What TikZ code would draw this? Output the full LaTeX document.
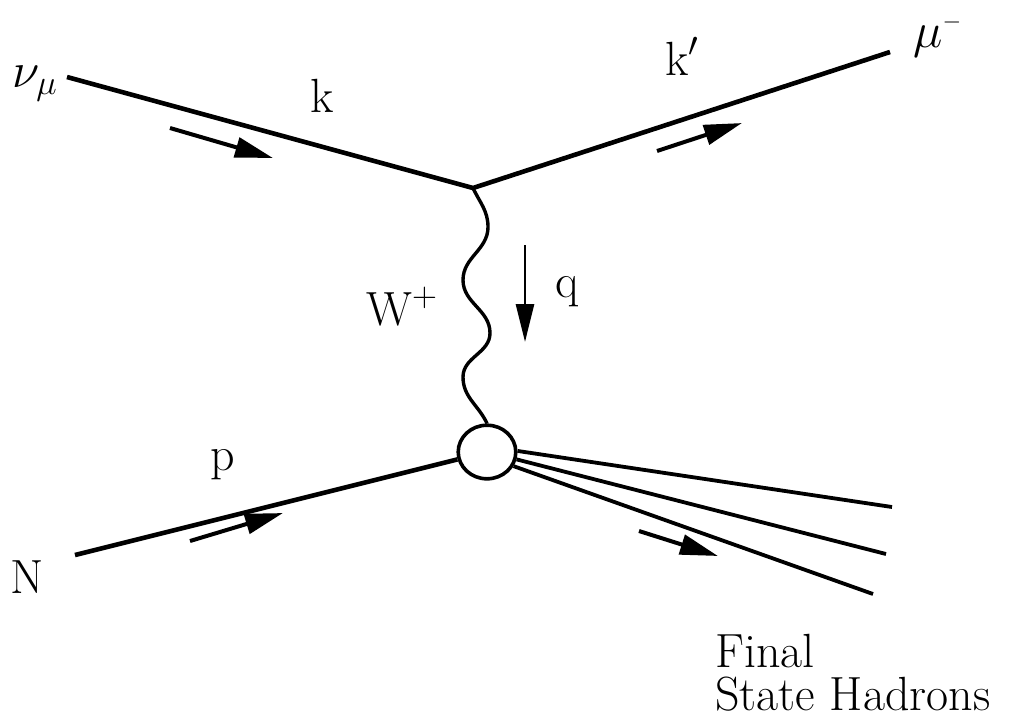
\documentclass[tikz,border=0pt]{standalone}
\usepackage{tikz}
\usetikzlibrary{arrows.meta,shapes.geometric}

\begin{document}
\begin{tikzpicture}[
  x=0.5pt, y=-0.5pt,
  fermion/.style={line width=2.3pt},
  hadron/.style={line width=1.9pt},
  boson/.style={line width=1.7pt},
  mom/.style={-{Triangle[length=19pt,width=10pt]}, line width=2pt},
  qmom/.style={-{Triangle[length=19pt,width=9pt]}, line width=1.4pt},
  lbl/.style={anchor=base west, inner sep=0pt, font=\fontsize{24}{28}\selectfont},
  blob/.style={
    ellipse,
    draw,
    line width=1.8pt,
    minimum width=28.8pt,
    minimum height=26.8pt,
    inner sep=0pt
  }
]
\useasboundingbox (0,0) rectangle (1026,725);

% vertices and line ends
\coordinate (nu) at (67,77);
\coordinate (v) at (473,188);
\coordinate (mu) at (890,52);
\coordinate (N) at (75,555);
\node[blob] (hx) at (487,452) {};
\coordinate (h1) at (892,507);
\coordinate (h2) at (886,554);
\coordinate (h3) at (873,594);

% lines
\draw[fermion] (nu) -- (v) -- (mu);
\draw[fermion] (N) -- (hx);
\draw[hadron] (hx.2) -- (h1);
\draw[hadron] (hx.-14) -- (h2);
\draw[hadron] (hx.-28) -- (h3);
\draw[boson] (v) to[out=-65,in=90] (488,227)
  to[out=-90,in=90] (463,280)
  to[out=-90,in=90] (490,333)
  to[out=-90,in=90] (463,377)
  to[out=-90,in=115] (hx.north);

% momentum arrows
\coordinate (ka) at (170,128);
\coordinate (kb) at (273,158);
\coordinate (kpa) at (657,151);
\coordinate (kpb) at (742,123);
\coordinate (qa) at (525,245);
\coordinate (qb) at (525,342);
\coordinate (pa) at (190,541);
\coordinate (pb) at (283,513);
\coordinate (ha) at (639,531);
\coordinate (hb) at (718,556);
\draw[mom] (ka) -- (kb);
\draw[mom] (kpa) -- (kpb);
\draw[qmom] (qa) -- (qb);
\draw[mom] (pa) -- (pb);
\draw[mom] (ha) -- (hb);

% labels
\node[lbl] (nulbl) at (12,87) {$\nu_\mu$};
\node[lbl] (klbl) at (310,112) {k};
\node[lbl] (kplbl) at (665,75) {k$'$};
\node[lbl] (mulbl) at (913,47) {$\mu^{\scriptscriptstyle -}$};
\node[lbl] (wlbl) at (366,325) {W$^+$};
\node[lbl] (qlbl) at (555,297) {q};
\node[lbl] (plbl) at (210,470) {p};
\node[lbl] (Nlbl) at (10,593) {N};
\node[lbl, anchor=north west, align=left, font=\fontsize{24}{21.5}\selectfont]
  (hadrons) at (715,634) {Final\\State Hadrons};
\end{tikzpicture}
\end{document}
